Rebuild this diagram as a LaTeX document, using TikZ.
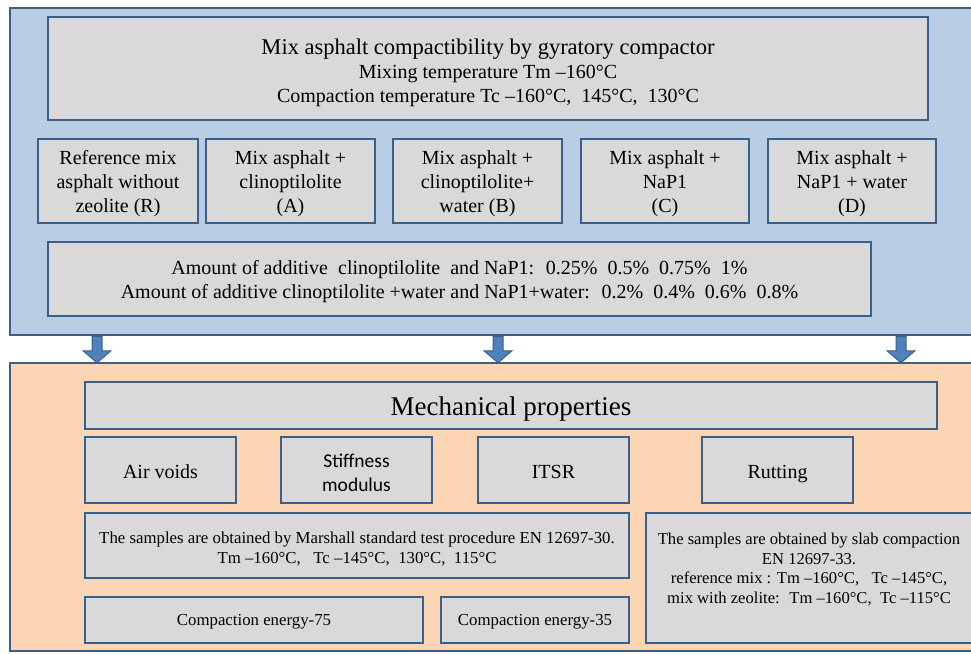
\documentclass[tikz,border=0pt]{standalone}
\usepackage{fontspec}
\setmainfont{Liberation Serif}
\newfontfamily\calfont{Carlito}
\usetikzlibrary{calc}
\definecolor{edge}{HTML}{3A5F8B}
\definecolor{bluefill}{HTML}{B9CDE5}
\definecolor{orfill}{HTML}{FCD5B5}
\definecolor{grayfill}{HTML}{D9D9D9}
\definecolor{arrfill}{HTML}{4F81BD}
% style, name, x1, y1, x2, y2, text style, text
\newcommand{\mkbox}[8]{%
  \node[#1,minimum width={#5-#3},minimum height={#6-#4}] (#2) at ({(#3+#5)/2},{(#4+#6)/2}) {};
  \node[txt,#7] (#2-t) at ($(#2.center)+(0,3)$) {#8};}
\begin{document}
\begin{tikzpicture}[x=1pt,y=-1pt,
  panel/.style={draw=edge,line width=2.5pt,inner sep=0pt},
  box/.style={draw=edge,fill=grayfill,line width=2.5pt,inner sep=0pt},
  txt/.style={inner sep=0pt,align=center,font=\fontsize{20}{24}\selectfont},
  one/.style={text height=15pt,text depth=4pt},
  barrow/.style={draw=edge,fill=arrfill,line width=1pt,line join=miter}]
\useasboundingbox (0,0) rectangle (971,653);
\fill[white] (0,0) rectangle (971,653);
% panels
\mkbox{panel,fill=bluefill}{blue}{10}{8}{990}{335}{}{}
\mkbox{panel,fill=orfill}{orange}{10}{363}{990}{651}{}{}
% top panel
\mkbox{box}{top}{48}{17}{928}{120}{yshift=-1.5pt}{{\fontsize{22.5}{24}\selectfont Mix asphalt compactibility by gyratory compactor}\\Mixing temperature Tm –160°C\\Compaction temperature Tc –160°C,~ 145°C,~ 130°C}
\mkbox{box}{R}{38}{139}{198}{223}{}{Reference mix\\asphalt without\\zeolite (R)}
\mkbox{box}{A}{206}{139}{375}{223}{}{Mix asphalt +\\clinoptilolite\\(A)}
\mkbox{box}{B}{393}{139}{562}{223}{}{Mix asphalt +\\clinoptilolite+\\water (B)}
\mkbox{box}{C}{581}{139}{749}{223}{}{Mix asphalt +\\NaP1\\(C)}
\mkbox{box}{D}{768}{139}{936}{223}{}{Mix asphalt +\\NaP1 + water\\(D)}
\mkbox{box}{amount}{48}{242}{871}{316}{}{Amount of additive~ clinoptilolite~ and NaP1:~ 0.25\%~ 0.5\%~ 0.75\%~ 1\%\\Amount of additive clinoptilolite +water and NaP1+water:~ 0.2\%~ 0.4\%~ 0.6\%~ 0.8\%}
% bottom panel
\mkbox{box}{mech}{85}{382}{937}{429}{text height=20pt,text depth=7pt,font=\fontsize{27}{30}\selectfont}{Mechanical properties}
\mkbox{box}{air}{85}{437}{236}{503}{one}{Air voids}
\mkbox{box}{stiff}{281}{437}{432}{503}{font=\calfont\fontsize{19.5}{24}\selectfont}{Stiffness\\modulus}
\mkbox{box}{itsr}{478}{437}{629}{503}{one}{ITSR}
\mkbox{box}{rut}{702}{437}{853}{503}{one}{Rutting}
\mkbox{box}{marsh}{85}{513}{629}{578}{font=\fontsize{16.8}{20}\selectfont}{The samples are obtained by Marshall standard test procedure EN 12697-30.\\Tm –160°C,~~ Tc –145°C,~ 130°C,~ 115°C}
\mkbox{box}{slab}{646}{513}{972}{643}{yshift=11.5pt,font=\fontsize{16.6}{19.5}\selectfont}{The samples are obtained by slab compaction\\EN 12697-33.\\reference mix : Tm –160°C,~~ Tc –145°C,\\mix with zeolite:~ Tm –160°C,~ Tc –115°C}
\mkbox{box}{ce75}{85}{597}{423}{643}{text height=12pt,text depth=5pt,yshift=1.5pt,font=\fontsize{16.8}{20}\selectfont}{Compaction energy-75}
\mkbox{box}{ce35}{441}{597}{629}{643}{text height=12pt,text depth=5pt,yshift=1.5pt,font=\fontsize{16.8}{20}\selectfont}{Compaction energy-35}
% arrows
\coordinate (x1) at (97,0);
\coordinate (x2) at (498,0);
\coordinate (x3) at (901,0);
\foreach \i in {1,2,3}{
  \coordinate (t\i) at (blue.south -| x\i);
  \coordinate (b\i) at ($(orange.north -| x\i)+(0,1)$);
  \draw[barrow] ($(t\i)+(-5,0)$) -- ($(t\i)+(5,0)$) -- ($(b\i)+(5,-12)$) -- ($(b\i)+(14,-12)$) -- (b\i) -- ($(b\i)+(-14,-12)$) -- ($(b\i)+(-5,-12)$) -- cycle;
}
\end{tikzpicture}
\end{document}
